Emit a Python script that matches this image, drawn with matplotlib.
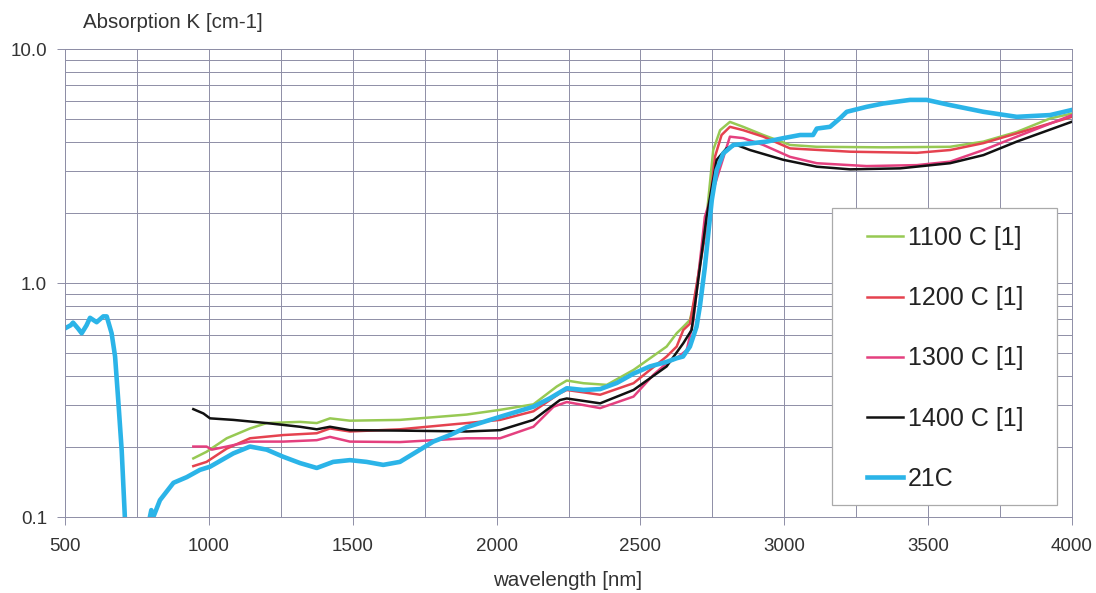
import matplotlib.pyplot as plt
from matplotlib.patches import Rectangle
from matplotlib.ticker import FixedLocator, NullFormatter

plt.rcParams['font.family'] = ['Liberation Sans', 'DejaVu Sans']

# 1100 C [1]
wl_1100 = [946, 992, 1062, 1143, 1201, 1317, 1375, 1421, 1490, 1664, 1896, 2012, 2128, 2209, 2244,
           2302, 2383, 2476, 2591, 2626, 2649, 2672, 2689, 2730, 2753, 2777, 2811, 2857, 2927, 3020,
           3113, 3344, 3576, 3692, 3808, 3924, 4000]
k_1100 = [0.178, 0.19, 0.217, 0.239, 0.252, 0.255, 0.252, 0.264, 0.258, 0.26, 0.274, 0.287, 0.303, 0.361, 0.383,
          0.373, 0.367, 0.425, 0.535, 0.61, 0.65, 0.695, 0.85, 1.92, 3.7, 4.5, 4.88, 4.65, 4.29, 3.89,
          3.82, 3.8, 3.82, 4.02, 4.42, 5.05, 5.3]

# 1200 C [1]
wl_1200 = [946, 992, 1062, 1143, 1259, 1375, 1421, 1490, 1664, 1896, 2012, 2128, 2220, 2244, 2360,
           2476, 2591, 2626, 2649, 2672, 2736, 2759, 2782, 2811, 2857, 2927, 3020, 3229, 3461, 3576,
           3692, 3808, 4000]
k_1200 = [0.165, 0.172, 0.196, 0.217, 0.224, 0.228, 0.239, 0.232, 0.237, 0.252, 0.26, 0.283, 0.338, 0.349, 0.333,
          0.373, 0.485, 0.535, 0.63, 0.67, 1.92, 3.46, 4.29, 4.65, 4.5, 4.22, 3.76, 3.64, 3.6, 3.7,
          3.96, 4.36, 5.13]

# 1300 C [1]
wl_1300 = [946, 969, 992, 1010, 1062, 1143, 1259, 1375, 1421, 1490, 1664, 1896, 2012, 2128, 2198, 2244,
           2360, 2476, 2545, 2591, 2626, 2661, 2684, 2724, 2811, 2857, 2927, 3020, 3113, 3286, 3461,
           3576, 3692, 3808, 4000]
k_1300 = [0.2, 0.2, 0.2, 0.194, 0.2, 0.21, 0.21, 0.213, 0.22, 0.21, 0.209, 0.217, 0.217, 0.243, 0.296, 0.31,
          0.292, 0.327, 0.405, 0.454, 0.477, 0.517, 0.69, 1.92, 4.22, 4.16, 3.89, 3.46, 3.25, 3.16, 3.19,
          3.3, 3.7, 4.22, 5.22]

# 1400 C [1]
wl_1400 = [946, 981, 1004, 1085, 1201, 1317, 1375, 1421, 1490, 1664, 1896, 2012, 2128, 2220, 2244,
           2360, 2476, 2591, 2649, 2678, 2730, 2765, 2799, 2834, 2881, 2997, 3113, 3229, 3403, 3576,
           3692, 3808, 4000]
k_1400 = [0.289, 0.277, 0.264, 0.26, 0.252, 0.243, 0.237, 0.243, 0.235, 0.234, 0.232, 0.235, 0.26, 0.316, 0.321,
          0.306, 0.349, 0.44, 0.553, 0.63, 1.92, 3.36, 3.76, 3.89, 3.7, 3.36, 3.14, 3.06, 3.09, 3.25,
          3.52, 4.02, 4.89]

# 21C
wl_21 = [500, 520, 528, 545, 558, 575, 587, 610, 633, 645, 662, 674, 685, 697, 708, 725, 780,
         795, 800, 807, 830, 877, 923, 969, 1004, 1085, 1143, 1201, 1258, 1317, 1375, 1432, 1490,
         1548, 1606, 1664, 1722, 1780, 1838, 1896, 2012, 2128, 2186, 2244, 2302, 2360, 2418, 2476,
         2533, 2591, 2626, 2648, 2672, 2695, 2707, 2724, 2736, 2748, 2765, 2788, 2823, 2881, 2939,
         2997, 3055, 3100, 3113, 3159, 3194, 3217, 3286, 3344, 3437, 3495, 3576, 3692, 3808, 3924, 4000]
k_21 = [0.64, 0.66, 0.677, 0.64, 0.61, 0.66, 0.71, 0.68, 0.72, 0.72, 0.61, 0.486, 0.316, 0.193, 0.1, 0.05, 0.05,
        0.1, 0.107, 0.1, 0.118, 0.14, 0.148, 0.159, 0.164, 0.187, 0.2, 0.194, 0.181, 0.17, 0.162, 0.172, 0.175,
        0.172, 0.167, 0.172, 0.19, 0.21, 0.224, 0.242, 0.268, 0.296, 0.322, 0.355, 0.349, 0.352, 0.374, 0.41,
        0.44, 0.46, 0.477, 0.485, 0.535, 0.65, 0.8, 1.17, 1.63, 2.26, 3.04, 3.58, 3.89, 3.95, 4.02,
        4.16, 4.29, 4.29, 4.57, 4.65, 5.06, 5.39, 5.66, 5.85, 6.06, 6.06, 5.76, 5.39, 5.13, 5.22, 5.49]

series = [
    (wl_1100, k_1100, '1100 C [1]', '#97c953', 1.8),
    (wl_1200, k_1200, '1200 C [1]', '#e5424f', 1.8),
    (wl_1300, k_1300, '1300 C [1]', '#e4407f', 1.8),
    (wl_1400, k_1400, '1400 C [1]', '#111111', 1.8),
    (wl_21, k_21, '21C', '#2bb4e8', 3.3),
]

W, H = 1096, 593
fig = plt.figure(figsize=(W / 100, H / 100), dpi=100)
ax = fig.add_axes([65 / W, 1 - 517 / H, (1072 - 65) / W, (517 - 49) / H])

for x, y, lab, col, lw in series:
    ax.plot(x, y, color=col, lw=lw, label=lab, solid_joinstyle='round')

ax.set_yscale('log')
ax.set_xlim(500, 4000)
ax.set_ylim(0.1, 10)

gcol = '#8e8ea6'
ax.set_xticks(range(500, 4001, 500))
ax.xaxis.set_minor_locator(FixedLocator(range(750, 4000, 500)))
ax.set_yticks([0.1, 1, 10])
ax.set_yticklabels(['0.1', '1.0', '10.0'])
minors = [m * 10.0 ** d for d in (-1, 0) for m in range(2, 10)]
ax.yaxis.set_minor_locator(FixedLocator(minors))
ax.yaxis.set_minor_formatter(NullFormatter())
ax.grid(True, which='both', color=gcol, lw=0.7)
ax.tick_params(which='major', length=6, width=0.7, color=gcol, labelsize=13.5,
               labelcolor='#333333')
ax.tick_params(axis='y', pad=7)
ax.tick_params(axis='x', pad=9)
ax.tick_params(which='minor', length=0)
for s in ax.spines.values():
    s.set_color(gcol)
    s.set_linewidth(0.7)
ax.set_axisbelow(True)

fig.text(83 / W, 1 - 22 / H, 'Absorption K [cm-1]', fontsize=14.8, color='#333333',
         ha='left', va='center')
fig.text(568 / W, 1 - 580 / H, 'wavelength [nm]', fontsize=14.8, color='#333333',
         ha='center', va='center')

fig.patches.append(Rectangle((832 / W, 1 - 505 / H), (1057 - 832) / W, (505 - 208) / H,
                             transform=fig.transFigure, facecolor='white',
                             edgecolor='#aaaaaa', lw=0.9, zorder=5))
leg = fig.legend(loc='upper left', bbox_to_anchor=(867 / W, 1 - 226 / H), frameon=False,
                 fontsize=18, handlelength=1.44, handletextpad=0.2, labelspacing=1.45,
                 borderpad=0, borderaxespad=0)
leg.set_zorder(6)
for t in leg.get_texts():
    t.set_color('#222222')

fig.savefig('out.png', dpi=100)
